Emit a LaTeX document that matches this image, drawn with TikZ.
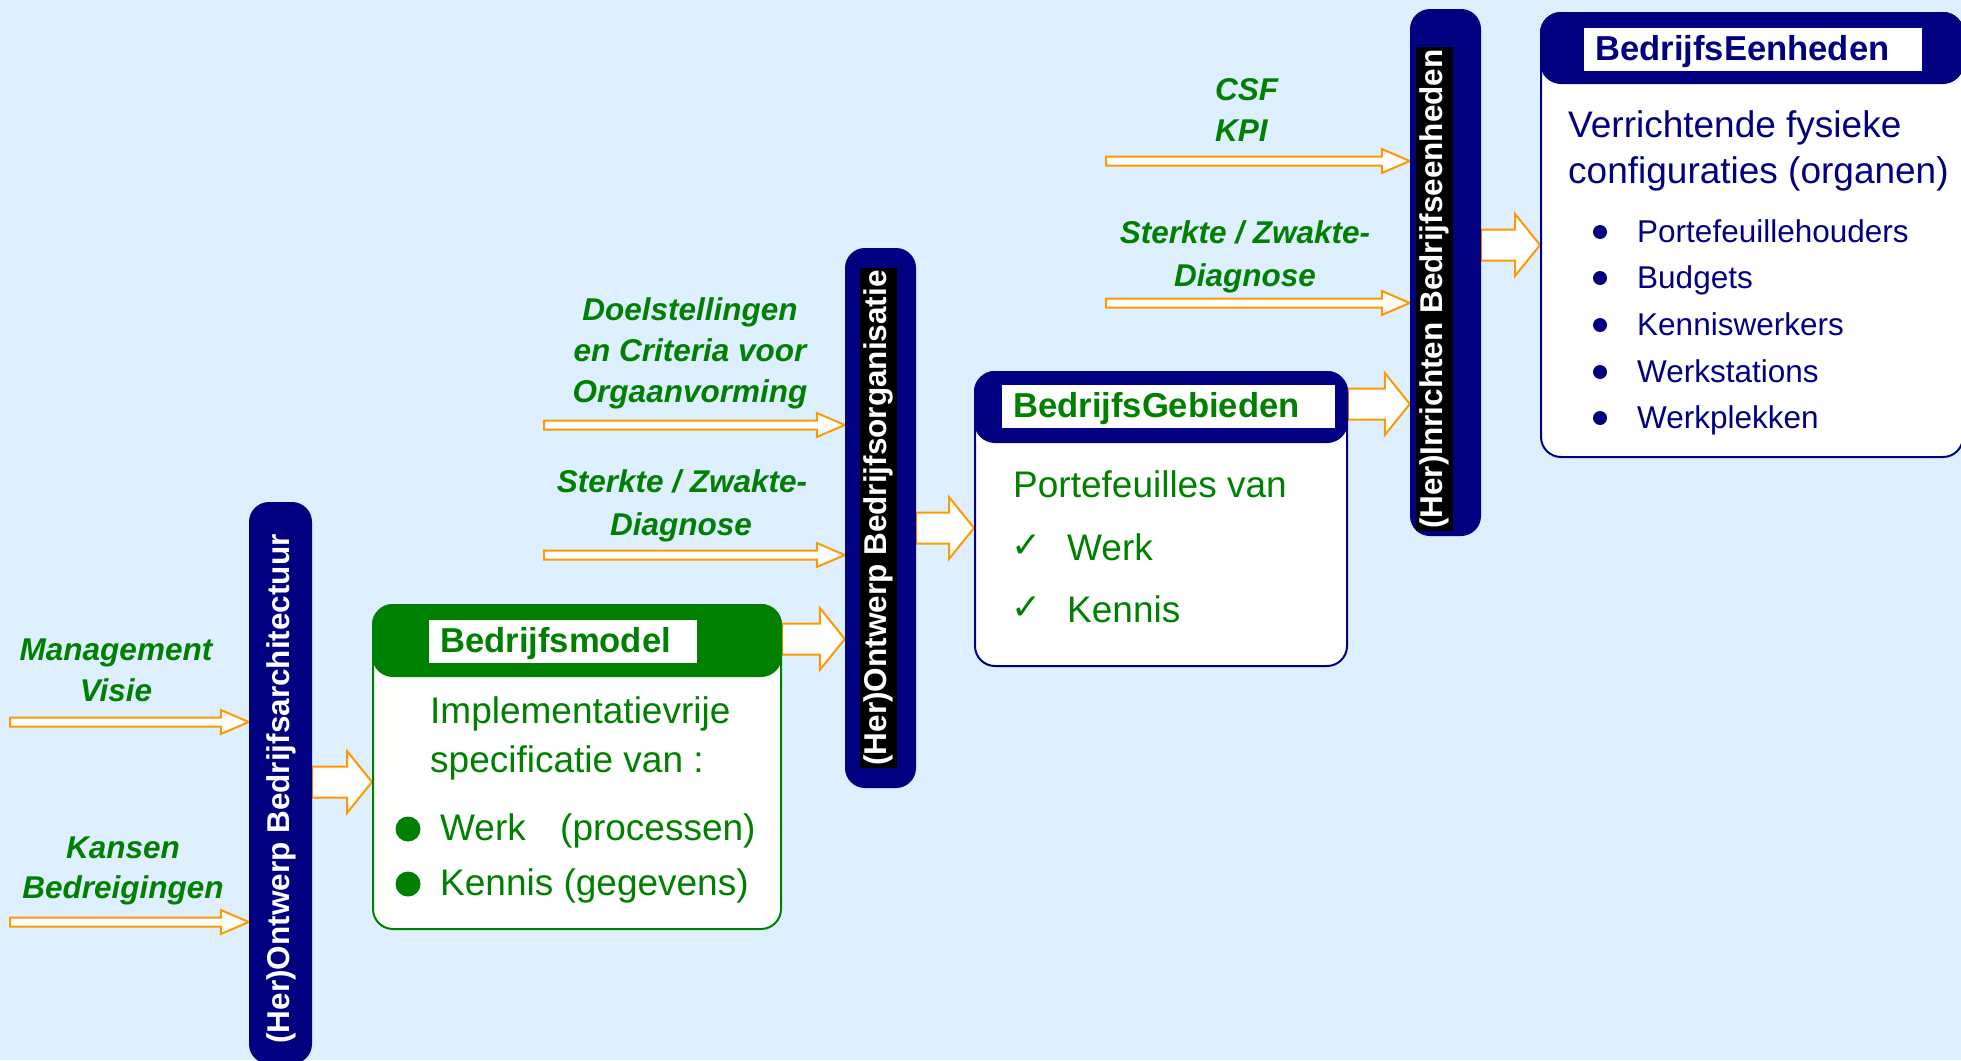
\documentclass[tikz,border=0pt]{standalone}
\usepackage{fontspec}
\setmainfont{Liberation Sans}
\newfontfamily\symfont{DejaVu Sans}
\usetikzlibrary{calc}
\definecolor{bgblue}{RGB}{222,239,255}
\definecolor{navy}{RGB}{0,0,128}
\definecolor{dgreen}{RGB}{0,128,0}
\definecolor{aorange}{RGB}{255,153,0}
\pgfdeclarelayer{back}
\pgfdeclarelayer{arrowlayer}
\pgfsetlayers{back,arrowlayer,main}

% #1 start, #2 end, #3 shaft half, #4 head half, #5 head length
\newcommand\blockarrow[5]{%
  \path[arrowline] let \p1=(#1), \p2=(#2) in
  (\x1,\y1+#3) -- (\x2-#5,\y1+#3) -- (\x2-#5,\y1+#4) -- (\x2,\y1)
  -- (\x2-#5,\y1-#4) -- (\x2-#5,\y1-#3) -- (\x1,\y1-#3) -- cycle;}

\tikzset{
  arrowline/.style={draw=aorange, fill=white, line width=2pt, line join=miter},
  barbox/.style={fill=navy, rounded corners=20pt, inner sep=0pt},
  bartext/.style={text=white, rotate=90, inner sep=0pt,
    font=\fontsize{31.5}{36}\selectfont\bfseries},
  bartextbg/.style={bartext, fill=black, inner xsep=2pt, minimum height=37pt},
  lab/.style={text=dgreen, anchor=base, inner sep=0pt,
    font=\fontsize{31.5}{41}\selectfont\bfseries\itshape},
  body/.style={fill=white, rounded corners=20pt, line width=2pt, inner sep=0pt},
  header/.style={rounded corners=20pt, line width=2pt, inner sep=0pt},
  titlerect/.style={fill=white, inner sep=0pt},
  titletext/.style={anchor=base west, inner sep=0pt,
    font=\fontsize{34.6}{40}\selectfont\bfseries},
  bodytext/.style={anchor=base west, inner sep=0pt,
    font=\fontsize{37}{44}\selectfont},
  itemtext/.style={anchor=base west, inner sep=0pt,
    font=\fontsize{31.5}{38}\selectfont},
  gdot/.style={circle, fill=dgreen, minimum size=25pt, inner sep=0pt},
  ndot/.style={circle, fill=navy, minimum size=14pt, inner sep=0pt},
  check/.style={anchor=base west, inner sep=0pt, text=dgreen,
    font=\symfont\bfseries\fontsize{36}{40}\selectfont}
}

\begin{document}
\begin{tikzpicture}[x=1pt, y=-1pt]
\useasboundingbox (0,0) rectangle (1961,1060);
\begin{pgfonlayer}{back}
  \fill[bgblue] (0,0) rectangle (1961,1060);
\end{pgfonlayer}

% ---------- vertical bars ----------
\node[barbox, minimum width=63pt, minimum height=562pt] (bar1) at (280.5,783) {};
\node[bartext] (bar1t) at (281,789) {(Her)Ontwerp Bedrijfsarchitectuur};

\node[barbox, minimum width=71pt, minimum height=540pt] (bar2) at (880.5,518) {};
\node[bartextbg] (bar2t) at (878,518) {(Her)Ontwerp Bedrijfsorganisatie};

\node[barbox, minimum width=71pt, minimum height=527pt] (bar3) at (1445.5,272.5) {};
\node[bartextbg] (bar3t) at (1434,289) {(Her)Inrichten Bedrijfseenheden};

% ---------- box 1 : Bedrijfsmodel ----------
\node[body, draw=dgreen, minimum width=408pt, minimum height=324pt] (box1) at (577,767) {};
\node[header, draw=dgreen, fill=dgreen, minimum width=408pt, minimum height=71pt] (box1h) at (577,640.5) {};
\node[titlerect, minimum width=268pt, minimum height=43pt] (box1r) at (563,641.5) {};
\node[titletext, text=dgreen] (box1t) at (440,652) {Bedrijfsmodel};
\node[bodytext, text=dgreen] (box1a) at (430,723) {Implementatievrije};
\node[bodytext, text=dgreen] (box1b) at (430,772) {specificatie van :};
\node[gdot] (box1d1) at (408,829) {};
\node[bodytext, text=dgreen] (box1c) at (440,840) {Werk};
\node[bodytext, text=dgreen] (box1c2) at (560,840) {(processen)};
\node[gdot] (box1d2) at (408,884) {};
\node[bodytext, text=dgreen] (box1e) at (440,895) {Kennis (gegevens)};

% ---------- box 2 : BedrijfsGebieden ----------
\node[body, draw=navy, minimum width=372pt, minimum height=294pt] (box2) at (1161,519) {};
\node[header, draw=navy, fill=navy, minimum width=372pt, minimum height=70pt] (box2h) at (1161,407) {};
\node[titlerect, minimum width=333pt, minimum height=43pt] (box2r) at (1168.5,406.5) {};
\node[titletext, text=dgreen] (box2t) at (1013,417) {BedrijfsGebieden};
\node[bodytext, text=dgreen] (box2a) at (1013,497) {Portefeuilles van};
\node[check] (box2k1) at (1011,557) {✓};
\node[bodytext, text=dgreen] (box2b) at (1067,560) {Werk};
\node[check] (box2k2) at (1011,619) {✓};
\node[bodytext, text=dgreen] (box2c) at (1067,622) {Kennis};

% ---------- box 3 : BedrijfsEenheden ----------
\node[body, draw=navy, minimum width=422pt, minimum height=444pt] (box3) at (1752,235) {};
\node[header, draw=navy, fill=navy, minimum width=422pt, minimum height=70pt] (box3h) at (1752,48) {};
\node[titlerect, minimum width=338pt, minimum height=43pt] (box3r) at (1753,49.5) {};
\node[titletext, text=navy] (box3t) at (1595,60) {BedrijfsEenheden};
\node[bodytext, text=navy] (box3a) at (1568,137) {Verrichtende fysieke};
\node[bodytext, text=navy] (box3b) at (1568,183) {configuraties (organen)};
\node[ndot] (box3d1) at (1600,232) {};
\node[itemtext, text=navy] (box3i1) at (1637,242) {Portefeuillehouders};
\node[ndot] (box3d2) at (1600,278) {};
\node[itemtext, text=navy] (box3i2) at (1637,288) {Budgets};
\node[ndot] (box3d3) at (1600,325) {};
\node[itemtext, text=navy] (box3i3) at (1637,335) {Kenniswerkers};
\node[ndot] (box3d4) at (1600,372) {};
\node[itemtext, text=navy] (box3i4) at (1637,382) {Werkstations};
\node[ndot] (box3d5) at (1600,418) {};
\node[itemtext, text=navy] (box3i5) at (1637,428) {Werkplekken};

% ---------- green labels ----------
\node[lab] (lm1) at (116,660) {Management};
\node[lab] (lm2) at (116,701) {Visie};
\node[lab] (lk1) at (123,858) {Kansen};
\node[lab] (lk2) at (123,898) {Bedreigingen};
\node[lab] (ld1) at (690,320) {Doelstellingen};
\node[lab] (ld2) at (690,361) {en Criteria voor};
\node[lab] (ld3) at (690,402) {Orgaanvorming};
\node[lab] (ls1) at (682,492) {Sterkte / Zwakte-};
\node[lab] (ls2) at (681,535) {Diagnose};
\node[lab, anchor=base west] (lc1) at (1215,100) {CSF};
\node[lab, anchor=base west] (lc2) at (1215,141) {KPI};
\node[lab] (lt1) at (1245,243) {Sterkte / Zwakte-};
\node[lab] (lt2) at (1245,286) {Diagnose};

% ---------- free ends of input arrows ----------
\coordinate (in1) at (10,722);
\coordinate (in2) at (10,922);
\coordinate (in3) at (544,425);
\coordinate (in4) at (544,555);
\coordinate (in5) at (1106,161);
\coordinate (in6) at (1106,303);
\coordinate (y1) at (0,782);
\coordinate (y2) at (0,639);
\coordinate (y3) at (0,528);
\coordinate (y4) at (0,404);
\coordinate (y5) at (0,245);

\begin{pgfonlayer}{arrowlayer}
  % thin input arrows
  \blockarrow{in1}{bar1.west |- in1}{4.5pt}{12pt}{28pt}
  \blockarrow{in2}{bar1.west |- in2}{4.5pt}{12pt}{28pt}
  \blockarrow{in3}{bar2.west |- in3}{4.5pt}{12pt}{28pt}
  \blockarrow{in4}{bar2.west |- in4}{4.5pt}{12pt}{28pt}
  \blockarrow{in5}{bar3.west |- in5}{4.5pt}{12pt}{28pt}
  \blockarrow{in6}{bar3.west |- in6}{4.5pt}{12pt}{28pt}
  % fat flow arrows
  \blockarrow{bar1.east |- y1}{box1.west |- y1}{15.5pt}{31pt}{25pt}
  \blockarrow{box1.east |- y2}{bar2.west |- y2}{15.5pt}{31pt}{25pt}
  \blockarrow{bar2.east |- y3}{box2.west |- y3}{15.5pt}{31pt}{25pt}
  \blockarrow{box2.east |- y4}{bar3.west |- y4}{15.5pt}{31pt}{25pt}
  \blockarrow{bar3.east |- y5}{box3.west |- y5}{15.5pt}{31pt}{25pt}
\end{pgfonlayer}
\end{tikzpicture}
\end{document}
